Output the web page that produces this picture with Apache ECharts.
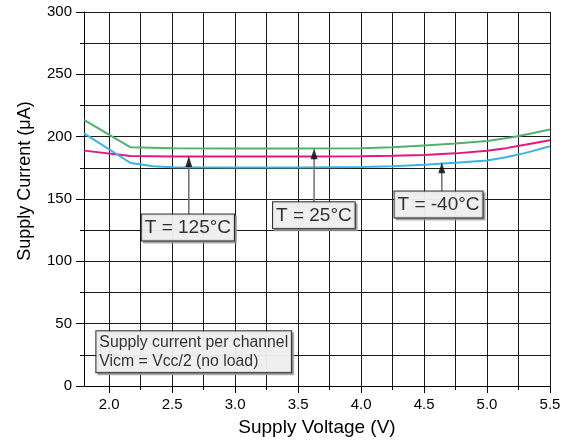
<!DOCTYPE html>
<html><head><meta charset="utf-8">
<script src="https://cdn.jsdelivr.net/npm/echarts@6/dist/echarts.min.js"></script>
<style>html,body{margin:0;padding:0;background:#fff}#c{width:568px;height:446px}</style>
</head><body><div id="c"></div>
<script>
// ---- data ----
const voltGreen = [1.8, 2.17, 2.5, 3.0, 3.5, 4.0, 4.25, 4.5, 4.75, 5.0, 5.2, 5.35, 5.5];
const currGreen = [213.5, 191.5, 190.8, 190.5, 190.5, 190.8, 191.5, 193.0, 194.5, 196.5, 199.5, 202.5, 205.8];
const voltPink  = [1.8, 2.17, 2.5, 3.0, 3.5, 4.0, 4.25, 4.5, 4.75, 5.0, 5.15, 5.3, 5.5];
const currPink  = [188.8, 184.5, 184.1, 184.0, 184.0, 184.2, 184.6, 185.3, 186.6, 188.7, 190.8, 193.5, 197.2];
const voltBlue  = [1.8, 2.17, 2.35, 2.5, 3.0, 3.5, 4.0, 4.25, 4.5, 4.75, 5.0, 5.15, 5.3, 5.5];
const currBlue  = [202.6, 178.9, 176.3, 175.5, 175.3, 175.3, 175.6, 176.3, 177.4, 179.0, 180.9, 183.5, 186.8, 192.3];

const xMajorTicks = [2.0, 2.5, 3.0, 3.5, 4.0, 4.5, 5.0, 5.5];
const xMinorTicks = [2.25, 2.75, 3.25, 3.75, 4.25, 4.75, 5.25];
const xTickLabels = ['2.0', '2.5', '3.0', '3.5', '4.0', '4.5', '5.0', '5.5'];

const calloutTexts = ['T = 125°C', 'T = 25°C', 'T = -40°C'];
const arrowX    = [2.632, 3.627, 4.641];
const arrowBase = [138.0, 147.8, 156.4];
const arrowTip  = [184.5, 190.8, 179.4];
const calloutX  = [2.625, 3.625, 4.615];

const noteLines = ['Supply current per channel', 'Vicm = Vcc/2 (no load)'];
const noteAnchor = [1.898, 44.4];

// ---- chart ----
const FONT = 'Liberation Sans, Arial, Helvetica, sans-serif';
const pairs = (xs, ys) => xs.map((x, i) => [x, ys[i]]);
const chart = echarts.init(document.getElementById('c'), null, {renderer: 'canvas'});

const series = [
  {type: 'line', data: pairs(voltGreen, currGreen), showSymbol: false, symbol: 'none',
   lineStyle: {color: '#4fb26f', width: 2}, z: 5},
  {type: 'line', data: pairs(voltPink, currPink), showSymbol: false, symbol: 'none',
   lineStyle: {color: '#e5177d', width: 2}, z: 5},
  {type: 'line', data: pairs(voltBlue, currBlue), showSymbol: false, symbol: 'none',
   lineStyle: {color: '#3cb2e6', width: 2}, z: 5}
];

arrowX.forEach((x, i) => {
  series.push({type: 'line', data: [[x, arrowBase[i]], [x, arrowTip[i] - 6]], symbol: 'none',
    lineStyle: {color: '#707070', width: 1.5}, z: 6});
});
series.push({type: 'scatter', data: arrowX.map((x, i) => [x, arrowTip[i]]),
  symbol: 'triangle', symbolSize: [7, 11], symbolOffset: [0, '50%'],
  itemStyle: {color: '#000'}, z: 7});

function boxLabel(fontSize, lineHeight, padding, extra, shadow) {
  return Object.assign({show: true, position: 'bottom', distance: 0, formatter: p => p.name,
    color: shadow ? 'rgba(0,0,0,0)' : '#000', fontSize: fontSize, fontFamily: FONT, lineHeight: lineHeight,
    backgroundColor: shadow ? '#9a9a9a' : '#fff', borderColor: shadow ? '#9a9a9a' : '#000',
    borderWidth: 1, padding: padding, offset: shadow ? [2, 2] : [0, 0]}, extra);
}

[true, false].forEach(shadow => {
  series.push({type: 'scatter', symbolSize: 1, itemStyle: {color: 'rgba(0,0,0,0)'}, z: shadow ? 9 : 10,
    data: calloutTexts.map((t, i) => ({value: [calloutX[i], arrowBase[i]], name: t})),
    label: boxLabel(19, 21, [3, 3, 2, 3], {}, shadow)});
  series.push({type: 'scatter', symbolSize: 1, itemStyle: {color: 'rgba(0,0,0,0)'}, z: shadow ? 9 : 10,
    data: [{value: noteAnchor, name: noteLines.join('\n')}],
    label: boxLabel(15.8, 19, [2, 3, 1, 3], {align: 'left'}, shadow)});
});

const gridLine = {show: true, lineStyle: {color: '#1a1a1a', width: 1}};

chart.setOption({
  animation: false,
  backgroundColor: '#fff',
  grid: {left: 84, top: 12, width: 466, height: 374, containLabel: false},
  xAxis: [
    {type: 'value', min: 1.8, max: 5.5, position: 'bottom',
     name: 'Supply Voltage (V)', nameLocation: 'middle', nameGap: 32,
     nameTextStyle: {color: '#000', fontSize: 19, fontFamily: FONT},
     axisLine: {show: true, lineStyle: {color: '#000', width: 1}},
     axisTick: {show: true, customValues: xMajorTicks, length: 7, lineStyle: {color: '#000'}},
     axisLabel: {show: true, customValues: xMajorTicks, margin: 11, color: '#000', fontSize: 15, fontFamily: FONT,
       formatter: v => xTickLabels[xMajorTicks.findIndex(t => Math.abs(t - v) < 1e-6)] ?? ''},
     splitLine: gridLine},
    {type: 'value', min: 1.8, max: 5.5, position: 'bottom',
     axisLine: {show: false},
     axisTick: {show: true, customValues: xMinorTicks, length: 4, lineStyle: {color: '#000'}},
     axisLabel: {show: false},
     splitLine: gridLine}
  ],
  yAxis: {type: 'value', min: 0, max: 300, interval: 50,
    name: 'Supply Current (μA)', nameLocation: 'middle', nameGap: 50,
    nameTextStyle: {color: '#000', fontSize: 18, fontFamily: FONT, padding: [0, 0, 0, 36]},
    axisLine: {show: true, lineStyle: {color: '#000', width: 1}},
    axisTick: {show: true, length: 8, lineStyle: {color: '#000'}},
    minorTick: {show: true, splitNumber: 2, length: 4, lineStyle: {color: '#000'}},
    minorSplitLine: {show: true, lineStyle: {color: '#1a1a1a', width: 1}},
    axisLabel: {color: '#000', fontSize: 15, fontFamily: FONT, margin: 12},
    splitLine: gridLine},
  series: series
});
</script></body></html>
